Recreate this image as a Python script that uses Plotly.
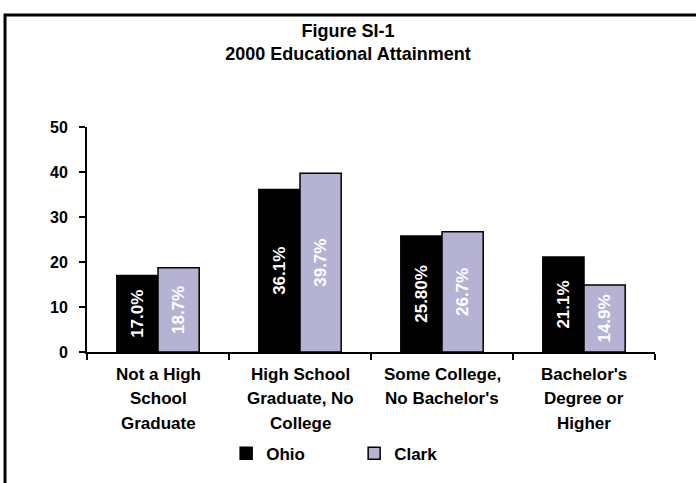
import plotly.graph_objects as go

categories = ["Not a High School Graduate", "High School Graduate, No College",
              "Some College, No Bachelor's", "Bachelor's Degree or Higher"]
category_lines = [["Not a High", "School", "Graduate"],
                  ["High School", "Graduate, No", "College"],
                  ["Some College,", "No Bachelor's"],
                  ["Bachelor's", "Degree or", "Higher"]]
ohio = [17.0, 36.1, 25.8, 21.1]
clark = [18.7, 39.7, 26.7, 14.9]
ohio_labels = ["17.0%", "36.1%", "25.80%", "21.1%"]
clark_labels = ["18.7%", "39.7%", "26.7%", "14.9%"]
y_ticks = [0, 10, 20, 30, 40, 50]

FONT = "Liberation Sans, Arial, sans-serif"
bold = dict(family=FONT, weight="bold", color="black")

fig = go.Figure()
fig.add_trace(go.Bar(
    name="Ohio", x=categories, y=ohio, text=ohio_labels,
    marker=dict(color="black", line=dict(color="black", width=1.5)),
    textposition="inside", insidetextanchor="middle", textangle=-90,
    textfont=dict(family=FONT, weight="bold", color="white", size=17),
    constraintext="none",
))
fig.add_trace(go.Bar(
    name="Clark", x=categories, y=clark, text=clark_labels,
    marker=dict(color="#b6b2d4", line=dict(color="black", width=1.5)),
    textposition="inside", insidetextanchor="middle", textangle=-90,
    textfont=dict(family=FONT, weight="bold", color="white", size=17),
    constraintext="none",
))

annotations = []
for cat, lines in zip(categories, category_lines):
    for i, line in enumerate(lines):
        annotations.append(dict(
            x=cat, xref="x", y=0, yref="paper", yanchor="middle",
            yshift=-22 - 24.5 * i, text=line, showarrow=False,
            font=dict(bold, size=17),
        ))

fig.update_layout(
    width=696, height=483,
    margin=dict(l=87, r=41, t=127, b=128),
    paper_bgcolor="white", plot_bgcolor="white",
    barmode="group", bargap=0.42, bargroupgap=0,
    title=dict(text="Figure SI-1<br>2000 Educational Attainment",
               x=0.5, xref="container", xanchor="center",
               y=1 - 37 / 483, yref="container", yanchor="top",
               font=dict(bold, size=18)),
    showlegend=True,
    legend=dict(orientation="h", x=0.245, xanchor="left", y=-0.452, yanchor="middle",
                font=dict(bold, size=17), entrywidth=83, entrywidthmode="pixels",
                itemwidth=30, bgcolor="rgba(0,0,0,0)"),
    annotations=annotations,
    shapes=[dict(type="rect", xref="paper", yref="paper",
                 x0=(5 - 87) / 568, x1=1.2, y0=-0.8, y1=(355 - 13.5) / 228,
                 line=dict(color="black", width=3), layer="below")],
)
fig.update_xaxes(showticklabels=False, showline=True, linecolor="black", linewidth=2,
                 ticks="outside", tickson="boundaries", ticklen=6, tickwidth=2,
                 tickcolor="black", showgrid=False)
fig.update_yaxes(range=[0, 50], tickvals=y_ticks, showline=True, linecolor="black",
                 linewidth=2, ticks="outside", ticklen=6, tickwidth=2, tickcolor="black",
                 showgrid=False, zeroline=False, tickfont=dict(bold, size=16),
                 ticklabelstandoff=8)

fig.write_html("out.html")
